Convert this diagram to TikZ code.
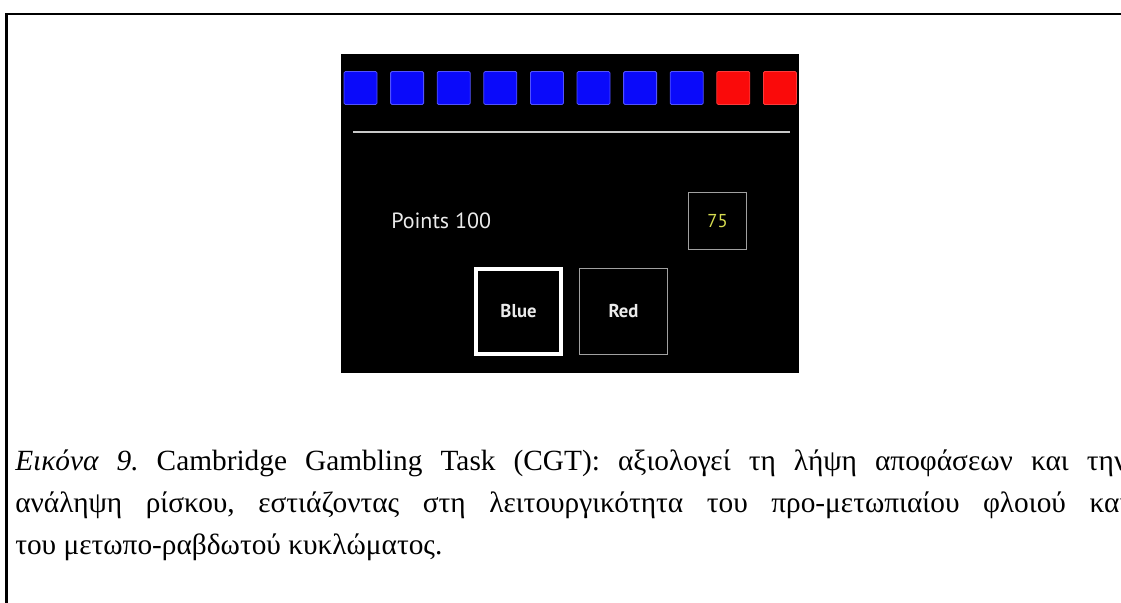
\documentclass[tikz,border=0pt]{standalone}
\usepackage{fontspec}
\setmainfont{Liberation Serif}
\newfontfamily\uifont{PT Sans}
\frenchspacing
\definecolor{sqblue}{RGB}{10,10,250}
\definecolor{sqred}{RGB}{250,10,10}
\definecolor{rulegray}{RGB}{200,200,200}
\definecolor{boxgray}{RGB}{160,160,160}
\definecolor{numyellow}{RGB}{215,220,80}
\definecolor{uitext}{RGB}{235,235,235}
\tikzset{
  sqb/.style={fill=sqblue, draw=sqblue!70!white, line width=0.6pt, rounded corners=1pt, minimum width=33*0.75pt, minimum height=33*0.75pt, inner sep=0pt},
  sqr/.style={fill=sqred, draw=sqred!80!white, line width=0.6pt, rounded corners=1pt, minimum width=33*0.75pt, minimum height=33*0.75pt, inner sep=0pt},
  uitxt/.style={text=uitext, font=\uifont\fontsize{16.5}{18}\selectfont, inner sep=0pt},
  choicetxt/.style={text=uitext, font=\uifont\bfseries\fontsize{14}{16}\selectfont, inner sep=0pt},
  caption/.style={anchor=base west, inner sep=0pt, font=\frenchspacing\fontsize{22}{26}\selectfont}
}
\begin{document}
\begin{tikzpicture}[x=0.75pt,y=-0.75pt]
\useasboundingbox (0,0) rectangle (1121,603);
% frame
\draw[line width=1.6pt] (6.5,640) -- (6.5,14) -- (1140,14);
% black panel
\node[fill=black, draw=none, minimum width=458*0.75pt, minimum height=319*0.75pt, inner sep=0pt] (panel) at (570,213.5) {};
% squares
\foreach \i in {0,...,7} {
  \node[sqb] (b\i) at ({360.5+46.6*\i},88) {};
}
\node[sqr] (r0) at ({360.5+46.6*8},88) {};
\node[sqr] (r1) at ({360.5+46.6*9},88) {};
% rule
\coordinate (ruleL) at (353,132);
\coordinate (ruleR) at (790,132);
\draw[rulegray, line width=1.5pt] (ruleL) -- (ruleR);
% points
\node[uitxt, anchor=west] (points) at (391,221) {Points 100};
\node[draw=boxgray, line width=1.2pt, minimum width=58*0.75pt, minimum height=57*0.75pt, inner sep=0pt] (bet) at (717.5,221) {};
\node[text=numyellow, font=\uifont\fontsize{14}{16}\selectfont, inner sep=0pt] (betnum) at (bet.center) {75};
% choice boxes
\node[draw=white, line width=2.4pt, minimum width=85*0.75pt, minimum height=85*0.75pt, inner sep=0pt] (blue) at (518.5,311.5) {};
\node[choicetxt] (bluet) at (blue.center) {Blue};
\node[draw=boxgray, line width=1.2pt, minimum width=88*0.75pt, minimum height=86*0.75pt, inner sep=0pt] (red) at (623.5,311.5) {};
\node[choicetxt] (redt) at (red.center) {Red};
% caption
\node[caption] (cap1) at (15,470) {\makebox[1112\dimexpr0.75pt\relax][s]{\textit{Εικόνα 9.} Cambridge Gambling Task (CGT): αξιολογεί τη λήψη αποφάσεων και την}};
\node[caption] (cap2) at (15,512) {\makebox[1112\dimexpr0.75pt\relax][s]{ανάληψη ρίσκου, εστιάζοντας στη λειτουργικότητα του προ-μετωπιαίου φλοιού και}};
\node[caption] (cap3) at (15,554) {του μετωπο-ραβδωτού κυκλώματος.};
\end{tikzpicture}
\end{document}
